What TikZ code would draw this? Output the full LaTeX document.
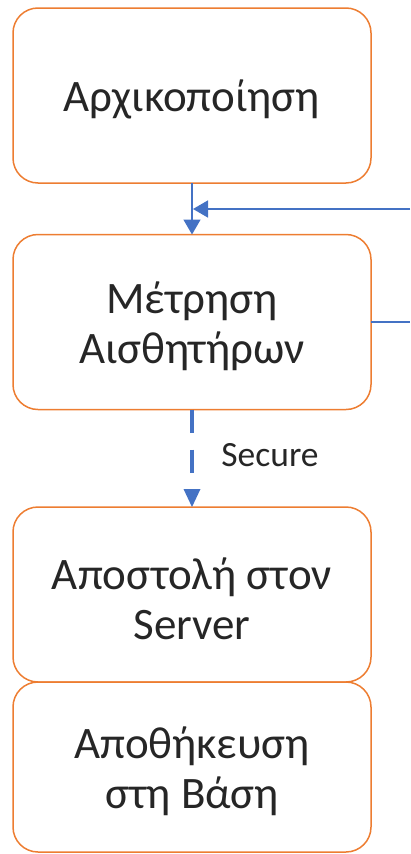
\documentclass[tikz,border=0pt]{standalone}
\usepackage{fontspec}
\setmainfont{Carlito}
\usetikzlibrary{arrows.meta}
\definecolor{boxorange}{HTML}{ED7D31}
\definecolor{lineblue}{HTML}{4472C4}
\begin{document}
\begin{tikzpicture}[x=1pt,y=-1pt,
  stage/.style={draw=boxorange, line width=1.5pt, rounded corners=25pt,
    minimum width=358pt, minimum height=175pt, inner sep=0pt, outer sep=0pt},
  stagetext/.style={align=center, text=black!85, inner sep=0pt,
    font=\fontsize{45}{50}\selectfont},
  flow/.style={draw=lineblue, line width=1.5pt, -{Triangle[width=17pt,length=15pt]}},
  secureflow/.style={draw=lineblue, line width=4pt, dash pattern=on 23pt off 17pt,
    -{Triangle[width=17pt,length=18pt,line width=0pt]}},
  lbl/.style={text=black!85, font=\fontsize{35.5}{40}\selectfont, inner sep=0pt}]
\useasboundingbox (0,0) rectangle (410,854);
\node[stage] (b1) at (192,95.5) {};
\node[stage] (b2) at (192,322) {};
\node[stage] (b3) at (192,594.5) {};
\node[stage, minimum height=170pt] (b4) at (192,767) {};
\node[stagetext] (t1) at ([yshift=-4pt]b1.center) {Αρχικοποίηση};
\node[stagetext] (t2) at ([yshift=-4pt]b2.center) {Μέτρηση\\Αισθητήρων};
\node[stagetext] (t3) at ([yshift=-4pt]b3.center) {Αποστολή στον\\Server};
\node[stagetext] (t4) at ([yshift=-4pt]b4.center) {Αποθήκευση\\στη Βάση};
\coordinate (r1) at (410,209);
\coordinate (r2) at (410,322);
\draw[flow] (b1.south) -- (b2.north);
\draw[flow] (r1) -- ([xshift=1pt]b1.south |- r1);
\draw[draw=lineblue, line width=1.5pt] (b2.east) -- (r2);
\draw[secureflow] (b2.south) -- (b3.north);
\node[lbl] (sec) at (270,455) {Secure};
\end{tikzpicture}
\end{document}
